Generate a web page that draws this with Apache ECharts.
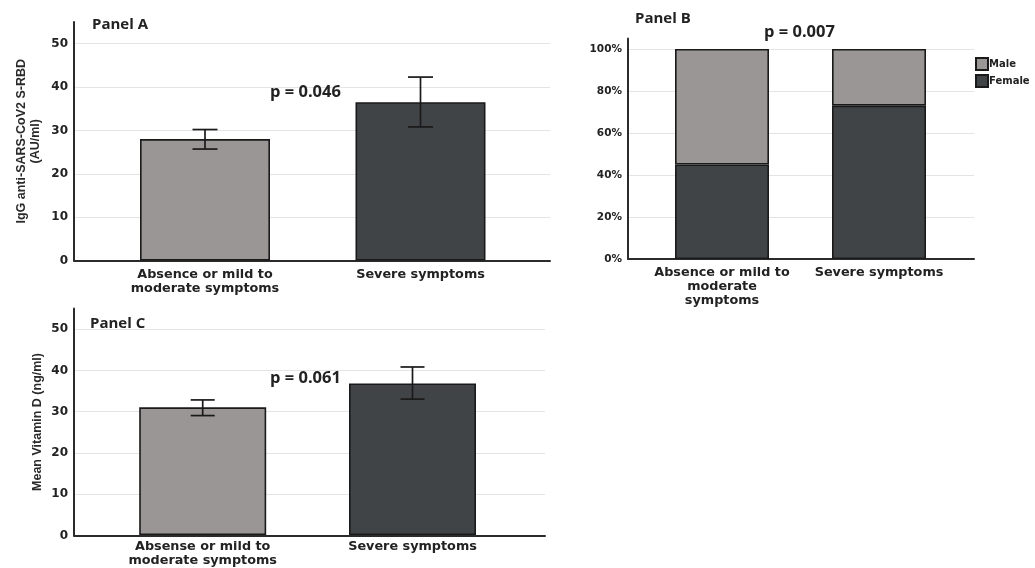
<!DOCTYPE html>
<html>
<head>
<meta charset="utf-8">
<script src="https://cdn.jsdelivr.net/npm/echarts@6/dist/echarts.min.js"></script>
<style>html,body{margin:0;padding:0;background:#fff;}#c{width:1035px;height:568px;}</style>
</head>
<body>
<div id="c"></div>
<script>
// ---- data ----
var catsA = ['Absence or mild to\nmoderate symptoms', 'Severe symptoms'];
var meanA = [28, 36.5];
var lowA = [25.7, 30.8];
var highA = [30.2, 42.3];

var catsB = ['Absence or mild to\nmoderate\nsymptoms', 'Severe symptoms'];
var femaleB = [45, 73];
var maleB = [55, 27];

var catsC = ['Absense or mild to\nmoderate symptoms', 'Severe symptoms'];
var meanC = [31, 36.8];
var lowC = [29, 33];
var highC = [32.8, 40.8];

var ticks55 = [0, 10, 20, 30, 40, 50];
var ticksPct = [0, 20, 40, 60, 80, 100];

var LIGHT = '#9a9695';
var DARK = '#414446';
var GRID = '#e4e4e4';
var AXIS = '#2b2b2b';
var TICKFONT = 'DejaVu Sans';
var TITLEFONT = 'Open Sans';

function gridColors(n) {
  var a = [];
  for (var i = 0; i < n; i++) a.push(GRID);
  a.push('rgba(0,0,0,0)');
  return a;
}

function axisX(gi) {
  return { type: 'value', gridIndex: gi, min: 0, max: 1,
    axisLine: { show: true, onZero: false, lineStyle: { color: AXIS, width: 2 } },
    axisLabel: { show: false }, axisTick: { show: false }, splitLine: { show: false } };
}
function barX(gi, cats, margin) {
  return { type: 'category', gridIndex: gi, data: cats,
    axisLine: { show: false }, axisTick: { show: false },
    axisLabel: { margin: margin, interval: 0, color: '#222', fontFamily: TICKFONT, fontWeight: 'bold', fontSize: 12.8, lineHeight: 14 } };
}
function axisY(gi, max, interval, n, fmt, name, nameGap, fs, nfs) {
  return { type: 'value', gridIndex: gi, min: 0, max: max, interval: interval,
    name: name, nameLocation: 'middle', nameGap: nameGap, nameRotate: 90,
    nameTextStyle: { fontFamily: 'Liberation Sans', fontWeight: 'bold', fontSize: nfs, color: '#2a2a2a', lineHeight: 14 },
    axisLine: { show: true, lineStyle: { color: AXIS, width: 2 } },
    axisTick: { show: false },
    axisLabel: { showMaxLabel: false, margin: 6, formatter: fmt, color: '#222', fontFamily: TICKFONT, fontWeight: 'bold', fontSize: fs },
    splitLine: { show: true, lineStyle: { color: gridColors(n), width: 1 } } };
}
function hiddenY(gi, max) {
  return { type: 'value', gridIndex: gi, min: 0, max: max, show: false, splitLine: { show: false } };
}

function errSeries(xi, yi, low, high, cap) {
  var d = low.map(function (v, i) { return [i, v, high[i]]; });
  return {
    type: 'custom', xAxisIndex: xi, yAxisIndex: yi, data: d, z: 5,
    renderItem: function (params, api) {
      var x = api.value(0);
      var p1 = api.coord([x, api.value(1)]);
      var p2 = api.coord([x, api.value(2)]);
      var st = { stroke: '#1a1a1a', lineWidth: 1.7 };
      return { type: 'group', children: [
        { type: 'line', shape: { x1: p1[0], y1: p1[1], x2: p2[0], y2: p2[1] }, style: st },
        { type: 'line', shape: { x1: p1[0] - cap / 2, y1: p1[1], x2: p1[0] + cap / 2, y2: p1[1] }, style: st },
        { type: 'line', shape: { x1: p2[0] - cap / 2, y1: p2[1], x2: p2[0] + cap / 2, y2: p2[1] }, style: st }
      ] };
    }
  };
}

function colored(vals) {
  return vals.map(function (v, i) {
    return { value: v, itemStyle: { color: i === 0 ? LIGHT : DARK } };
  });
}

var chart = echarts.init(document.getElementById('c'), null, { renderer: 'canvas' });

var tStyle = { fontFamily: TITLEFONT, fontWeight: 'bold', fontSize: 15, color: '#222' };
var pStyle = { fontFamily: TITLEFONT, fontWeight: 'bold', fontSize: 16.5, color: '#222' };

var option = {
  animation: false,
  backgroundColor: '#ffffff',
  title: [
    { text: 'Panel A', left: 92, top: 17, padding: 0, textStyle: tStyle },
    { text: 'p = 0.046', left: 270, top: 84, padding: 0, textStyle: pStyle },
    { text: 'Panel B', left: 635, top: 11, padding: 0, textStyle: tStyle },
    { text: 'p = 0.007', left: 764, top: 24, padding: 0, textStyle: pStyle },
    { text: 'Panel C', left: 90, top: 316, padding: 0, textStyle: tStyle },
    { text: 'p = 0.061', left: 270, top: 370, padding: 0, textStyle: pStyle }
  ],
  legend: {
    orient: 'vertical', left: 975, top: 57, padding: 0, itemGap: 3,
    itemWidth: 12, itemHeight: 12, icon: 'rect',
    data: ['Male', 'Female'],
    textStyle: { fontFamily: TICKFONT, fontWeight: 'bold', fontSize: 10, color: '#222', padding: [0, 0, 0, -4] }
  },
  grid: [
    { left: 74, width: 476, top: 22, height: 238.5 },
    { left: 97.25, width: 431, top: 22, height: 238.5 },
    { left: 628, width: 346, top: 38.5, height: 220.5 },
    { left: 643.5, width: 314, top: 38.5, height: 220.5 },
    { left: 74, width: 471, top: 308.5, height: 227 },
    { left: 97.8, width: 419.6, top: 308.5, height: 227 }
  ],
  xAxis: [
    axisX(0), barX(1, catsA, 7),
    axisX(2), barX(3, catsB, 7),
    axisX(4), barX(5, catsC, 5)
  ],
  yAxis: [
    axisY(0, 55, 10, ticks55.length, function (v) { return String(v); }, 'IgG anti-SARS-CoV2 S-RBD\n(AU/ml)', 31, 12, 12.5),
    hiddenY(1, 55),
    axisY(2, 105, 20, ticksPct.length, function (v) { return v + '%'; }, '', 0, 10.5, 12),
    hiddenY(3, 105),
    axisY(4, 55, 10, ticks55.length, function (v) { return String(v); }, 'Mean Vitamin D (ng/ml)', 29, 12, 12.5),
    hiddenY(5, 55)
  ],
  series: [
    { type: 'bar', xAxisIndex: 1, yAxisIndex: 1, barWidth: 130, data: colored(meanA),
      itemStyle: { borderColor: '#1a1a1a', borderWidth: 1.6 } },
    errSeries(1, 1, lowA, highA, 25),
    { name: 'Female', type: 'bar', stack: 'sex', xAxisIndex: 3, yAxisIndex: 3, barWidth: 94, data: femaleB,
      itemStyle: { color: DARK, borderColor: '#1a1a1a', borderWidth: 1.6 } },
    { name: 'Male', type: 'bar', stack: 'sex', xAxisIndex: 3, yAxisIndex: 3, barWidth: 94, data: maleB,
      itemStyle: { color: LIGHT, borderColor: '#1a1a1a', borderWidth: 1.6 } },
    { type: 'bar', xAxisIndex: 5, yAxisIndex: 5, barWidth: 127, data: colored(meanC),
      itemStyle: { borderColor: '#1a1a1a', borderWidth: 1.6 } },
    errSeries(5, 5, lowC, highC, 24)
  ]
};
chart.setOption(option);
</script>
</body>
</html>
